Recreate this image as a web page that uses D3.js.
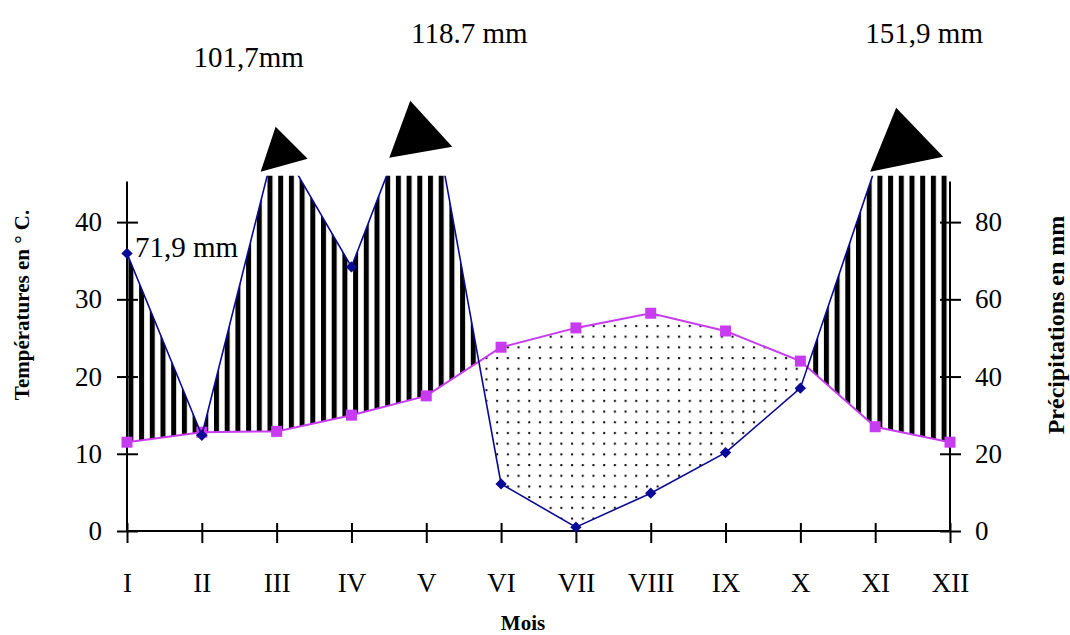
<!DOCTYPE html>
<html lang="fr">
<head>
<meta charset="UTF-8">
<title>Diagramme ombrothermique</title>
<script src="https://d3js.org/d3.v7.min.js"></script>
<style>
    body { margin: 0; background: #fff; }
    svg { display: block; font-family: "Liberation Serif", "Times New Roman", serif; }
</style>
</head>
<body>
<svg id="chart" width="1070" height="635"></svg>
<script>
    // data
    const months = ["I", "II", "III", "IV", "V", "VI", "VII", "VIII", "IX", "X", "XI", "XII"];
    const temperatures = [11.5, 12.8, 12.9, 15, 17.5, 23.8, 26.3, 28.2, 25.9, 22, 13.5, 11.5];
    const precipitations = [71.9, 24.8, 101.7, 68.4, 118.7, 12.2, 1.0, 9.8, 20.3, 37, 94, 151.9];
    const tempTicks = [0, 10, 20, 30, 40];
    const precTicks = [0, 20, 40, 60, 80];
    const noteMonths = ["I", "III", "V", "XI"];
    const noteTexts = ["71,9 mm", "101,7mm", "118.7 mm", "151,9 mm"];

    const pink = "#c83cf0", blue = "#0a0a96";
    const svg = d3.select("#chart");

    const x = d3.scalePoint(months, [127, 950]);
    const yT = d3.scaleLinear([0, 45], [531, 183.5]);
    const yP = d3.scaleLinear([0, 90], [531, 183.5]);
    const plotTop = yT(46);

    const rows = months.map((m, i) => ({ m, t: temperatures[i], p: precipitations[i] }));

    const defs = svg.append("defs");
    const hatch = defs.append("pattern").attr("id", "hatch")
        .attr("patternUnits", "userSpaceOnUse").attr("width", 10.7).attr("height", 10);
    hatch.append("rect").attr("width", 5).attr("height", 10).attr("fill", "#000");
    const dots = defs.append("pattern").attr("id", "dots")
        .attr("patternUnits", "userSpaceOnUse").attr("width", 10.7).attr("height", 10.7);
    dots.append("rect").attr("x", 4).attr("y", 4).attr("width", 2).attr("height", 2).attr("fill", "#000");

    defs.append("clipPath").attr("id", "plot").append("rect")
        .attr("x", x("I")).attr("y", plotTop).attr("width", x("XII") - x("I")).attr("height", yT(0) - plotTop);
    defs.append("clipPath").attr("id", "plotwide").append("rect")
        .attr("x", 0).attr("y", plotTop).attr("width", 1070).attr("height", 640 - plotTop);
    // region above / below the temperature line
    defs.append("clipPath").attr("id", "above").append("path")
        .attr("d", d3.area().x(d => x(d.m)).y0(0).y1(d => yT(d.t))(rows));
    defs.append("clipPath").attr("id", "below").append("path")
        .attr("d", d3.area().x(d => x(d.m)).y0(640).y1(d => yT(d.t))(rows));

    const band = d3.area().x(d => x(d.m)).y0(d => yT(d.t)).y1(d => yP(d.p));
    const plot = svg.append("g").attr("clip-path", "url(#plot)");
    plot.append("g").attr("clip-path", "url(#above)")
        .append("path").attr("d", band(rows)).attr("fill", "url(#hatch)");
    plot.append("g").attr("clip-path", "url(#below)")
        .append("path").attr("d", band(rows)).attr("fill", "url(#dots)");

    // axes
    const axisStyle = g => {
        g.select(".domain").attr("stroke", "#000").attr("stroke-width", 2);
        g.selectAll(".tick line").attr("stroke", "#000").attr("stroke-width", 2);
        g.selectAll(".tick text").attr("font-size", 27).attr("fill", "#000")
            .attr("font-family", "'Liberation Serif', 'Times New Roman', serif");
    };
    const left = svg.append("g").attr("transform", `translate(${x("I")},0)`)
        .call(d3.axisLeft(yT).tickValues(tempTicks).tickSize(10).tickSizeOuter(0).tickPadding(15))
        .call(axisStyle);
    left.select(".domain").attr("d", `M0,${yT(0)}V${yT(45) - 2}`);
    left.selectAll(".tick line").attr("x2", -10).attr("x1", 11);

    const right = svg.append("g").attr("transform", `translate(${x("XII")},0)`)
        .call(d3.axisRight(yP).tickValues(precTicks).tickSize(10).tickSizeOuter(0).tickPadding(15))
        .call(axisStyle);
    right.select(".domain").attr("d", `M0,${yP(0)}V${yP(90) - 2}`);
    right.selectAll(".tick line").attr("x2", 11).attr("x1", -10);

    const bottom = svg.append("g").attr("transform", `translate(0,${yT(0)})`)
        .call(d3.axisBottom(x).tickSize(12).tickSizeOuter(0).tickPadding(30))
        .call(axisStyle);
    bottom.select(".domain").attr("d", `M${x("I")},0H${x("XII")}`);
    bottom.selectAll(".tick line").attr("y1", -8);

    // temperature line
    svg.append("path").datum(rows)
        .attr("d", d3.line().x(d => x(d.m)).y(d => yT(d.t)))
        .attr("fill", "none").attr("stroke", pink).attr("stroke-width", 2);
    svg.selectAll(".sq").data(rows).join("rect").attr("class", "sq")
        .attr("x", d => x(d.m) - 5.5).attr("y", d => yT(d.t) - 5.5)
        .attr("width", 11).attr("height", 11).attr("fill", pink);

    // precipitation line
    const pplot = svg.append("g").attr("clip-path", "url(#plotwide)");
    pplot.append("path").datum(rows)
        .attr("d", d3.line().x(d => x(d.m)).y(d => yP(d.p)))
        .attr("fill", "none").attr("stroke", blue).attr("stroke-width", 1.6);
    pplot.selectAll(".dm").data(rows).join("path").attr("class", "dm")
        .attr("d", d3.symbol(d3.symbolSquare, 64))
        .attr("transform", d => `translate(${x(d.m)},${yP(d.p)}) rotate(45)`)
        .attr("fill", blue);

    // arrow heads above the clipped peaks
    const heads = [
        [[-16, -4], [-1, -49], [31, -17]],
        [[-37, -18], [-16, -75], [26, -29]],
        [[-5, -4], [21, -68], [68, -19]]
    ];
    ["III", "V", "XI"].forEach((m, i) => {
        svg.append("path")
            .attr("d", d3.line()(heads[i].map(([dx, dy]) => [x(m) + dx, plotTop + dy])) + "Z")
            .attr("fill", "#000");
    });

    // rainfall notes
    const noteOffsets = [8, -28, 43, 49];
    const noteY = [yP(71.9) + 4, 67, 43, 43];
    noteTexts.forEach((t, i) => {
        svg.append("text")
            .attr("x", x(noteMonths[i]) + noteOffsets[i]).attr("y", noteY[i])
            .attr("text-anchor", i === 0 ? "start" : "middle")
            .attr("font-size", 29).text(t);
    });

    // titles
    svg.append("text").attr("transform", "translate(29,305) rotate(-90)")
        .attr("text-anchor", "middle").attr("font-size", 21).attr("font-weight", "bold")
        .text("Températures en ° C.");
    svg.append("text").attr("transform", "translate(1064,325) rotate(-90)")
        .attr("text-anchor", "middle").attr("font-size", 24).attr("font-weight", "bold")
        .text("Précipitations en mm");
    svg.append("text").attr("x", 523).attr("y", 630)
        .attr("text-anchor", "middle").attr("font-size", 21).attr("font-weight", "bold")
        .text("Mois");
</script>
</body>
</html>
